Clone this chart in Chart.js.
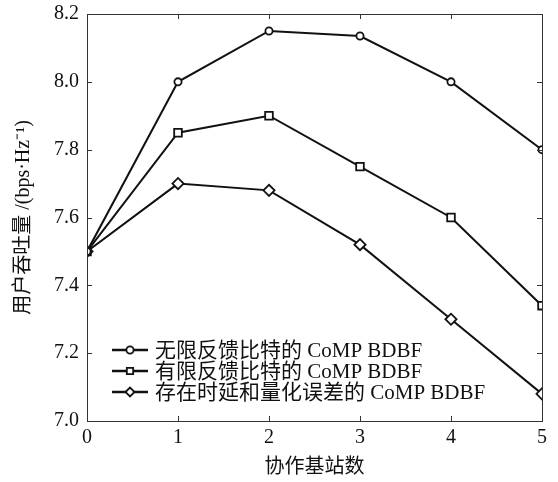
<!DOCTYPE html>
<html>
<head>
<meta charset="utf-8">
<script src="https://cdn.jsdelivr.net/npm/chart.js@4/dist/chart.umd.min.js"></script>
<style>
  html, body { margin: 0; padding: 0; background: #fff; }
  #wrap { width: 558px; height: 482px; }
</style>
</head>
<body>
<div id="wrap"><canvas id="c" width="558" height="482"></canvas></div>
<script>
// Number of cooperating base stations
const stations = [0, 1, 2, 3, 4, 5];

// Throughput (bps/Hz) for each feedback scheme
const idealFeedback   = [7.50, 8.00, 8.15, 8.135, 8.00, 7.80];
const limitedFeedback = [7.50, 7.85, 7.90, 7.75, 7.60, 7.34];
const delayedQuant    = [7.50, 7.70, 7.68, 7.52, 7.30, 7.08];

const seriesLabels = [
  '无限反馈比特的 CoMP BDBF',
  '有限反馈比特的 CoMP BDBF',
  '存在时延和量化误差的 CoMP BDBF'
];

const xTitle = '协作基站数';
const yTitle = '用户吞吐量 /(bps·Hz⁻¹)';

const FONT = '"Liberation Serif", "Times New Roman", "Noto Sans CJK SC", serif';
const INK = '#111';

Chart.defaults.font.family = FONT;
Chart.defaults.color = INK;

function toPoints(ys) {
  return ys.map((y, i) => ({ x: stations[i], y }));
}

const markerStyles = ['circle', 'rect', 'rectRot'];
const markerRadius = [3.6, 5.4, 5.6];
const seriesData = [idealFeedback, limitedFeedback, delayedQuant];

const datasets = seriesData.map((ys, i) => ({
  label: seriesLabels[i],
  data: toPoints(ys),
  borderColor: INK,
  borderWidth: 2,
  tension: 0,
  pointStyle: markerStyles[i],
  pointRadius: markerRadius[i],
  pointBorderWidth: 1.8,
  pointBorderColor: INK,
  pointBackgroundColor: '#fff',
  fill: false
}));

// Boxed frame with inward tick marks on every side
const frameTicks = {
  id: 'frameTicks',
  afterDatasetsDraw(chart) {
    const { ctx, chartArea: a, scales: { x, y } } = chart;
    const len = 5;
    ctx.save();
    ctx.strokeStyle = '#333';
    ctx.lineWidth = 1;
    ctx.beginPath();
    x.ticks.forEach(t => {
      if (t.value <= x.min || t.value >= x.max) return;
      const px = Math.round(x.getPixelForValue(t.value)) + 0.5;
      ctx.moveTo(px, a.bottom); ctx.lineTo(px, a.bottom - len);
      ctx.moveTo(px, a.top); ctx.lineTo(px, a.top + len);
    });
    y.ticks.forEach(t => {
      if (t.value <= y.min + 1e-9 || t.value >= y.max - 1e-9) return;
      const py = Math.round(y.getPixelForValue(t.value)) + 0.5;
      ctx.moveTo(a.left, py); ctx.lineTo(a.left + len, py);
      ctx.moveTo(a.right, py); ctx.lineTo(a.right - len, py);
    });
    ctx.stroke();
    ctx.strokeRect(Math.round(a.left) + 0.5, Math.round(a.top) + 0.5,
                   Math.round(a.right - a.left), Math.round(a.bottom - a.top));
    ctx.restore();
  }
};

// Line-and-marker legend in the lower-left corner of the plot
const innerLegend = {
  id: 'innerLegend',
  afterDraw(chart) {
    const { ctx, chartArea: a } = chart;
    const x0 = a.left + 25, x1 = a.left + 61, tx = a.left + 68;
    const rowH = 21;
    const yLast = a.bottom - 29;
    ctx.save();
    ctx.font = '21px ' + FONT;
    ctx.textBaseline = 'middle';
    ctx.textAlign = 'left';
    chart.data.datasets.forEach((ds, i) => {
      const yy = yLast - (chart.data.datasets.length - 1 - i) * rowH;
      ctx.strokeStyle = INK;
      ctx.lineWidth = 2.5;
      ctx.beginPath();
      ctx.moveTo(x0, yy); ctx.lineTo(x1, yy);
      ctx.stroke();
      ctx.fillStyle = '#fff';
      ctx.lineWidth = 1.8;
      Chart.helpers.drawPoint(ctx, {
        pointStyle: ds.pointStyle,
        radius: Math.min(ds.pointRadius, 4.5),
        borderWidth: 1.8,
        rotation: 0
      }, (x0 + x1) / 2, yy);
      ctx.fillStyle = INK;
      ctx.fillText(ds.label, tx, yy + 1);
    });
    ctx.restore();
  }
};

new Chart(document.getElementById('c'), {
  type: 'line',
  data: { datasets },
  options: {
    responsive: false,
    animation: false,
    layout: { padding: { top: 14, right: 16, left: 0, bottom: 0 } },
    plugins: { legend: { display: false }, tooltip: { enabled: false } },
    scales: {
      x: {
        type: 'linear',
        min: 0, max: 5,
        grid: { display: false, drawTicks: false },
        border: { display: false },
        ticks: { stepSize: 1, padding: 5, font: { size: 20 }, color: INK },
        title: { display: true, text: xTitle, font: { size: 20 }, color: INK, padding: { top: 4, bottom: 2 } },
        afterFit(s) { s.height = 61; }
      },
      y: {
        min: 7.0, max: 8.2,
        grid: { display: false, drawTicks: false },
        border: { display: false },
        ticks: {
          stepSize: 0.2, padding: 8, font: { size: 20, lineHeight: 0.6 }, color: INK,
          callback: v => Number(v).toFixed(1)
        },
        title: { display: true, text: yTitle, font: { size: 20 }, color: INK, padding: { top: 12, bottom: 4 } },
        afterFit(s) { s.width = 87; }
      }
    }
  },
  plugins: [frameTicks, innerLegend]
});
</script>
</body>
</html>
